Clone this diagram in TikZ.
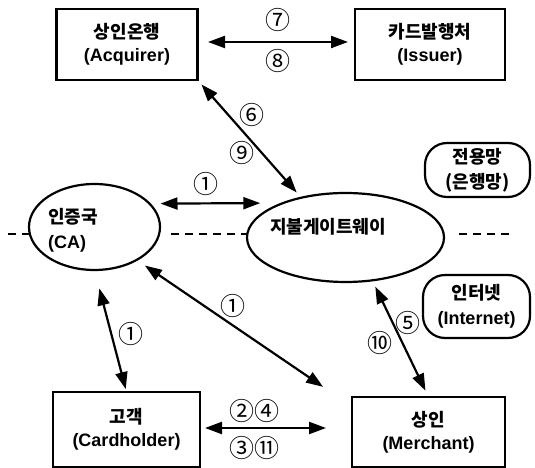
\documentclass[tikz,border=0pt]{standalone}
\usepackage{fontspec}
\setmainfont{Liberation Sans}
\newfontfamily\krb{Noto Sans CJK KR Bold}
\newfontfamily\krn{Noto Sans CJK KR}
\usetikzlibrary{arrows.meta,calc,shapes.geometric}
\tikzset{
  bx/.style={draw, line width=2.2pt, rectangle, inner sep=0pt, outer sep=0pt, align=center,
    font=\bfseries\fontsize{18}{23}\selectfont},
  rbx/.style={draw, line width=2.2pt, rectangle, rounded corners=22pt, inner sep=0pt, outer sep=0pt,
    align=center, font=\bfseries\fontsize{18}{25}\selectfont},
  el/.style={draw, ellipse, line width=2.2pt, inner sep=0pt, outer sep=0pt},
  txt/.style={inner sep=0pt, font=\bfseries\fontsize{18}{25}\selectfont},
  lbl/.style={inner sep=0pt, font=\krn\fontsize{25}{25}\selectfont},
  dbl/.style={{Triangle[length=17pt,width=12pt]}-{Triangle[length=17pt,width=12pt]}, line width=2.2pt},
  dsh/.style={line width=1.8pt, dash pattern=on 8pt off 6pt}
}
\begin{document}
\begin{tikzpicture}[x=1pt,y=1pt]
\useasboundingbox (0,0) rectangle (535,468);
% boxes
\node[bx, minimum width=141pt, minimum height=71pt] (acq) at (127,423.5) {{\krb 상인온행}\\(Acquirer)};
\node[bx, minimum width=150pt, minimum height=71pt] (iss) at (430,423.5) {{\krb 카드발행처}\\(Issuer)};
\node[bx, minimum width=147pt, minimum height=75pt] (ch) at (126.5,38.5) {{\krb 고객}\\(Cardholder)};
\node[bx, minimum width=153pt, minimum height=70pt] (mer) at (428.5,36) {{\krb 상인}\\(Merchant)};
% rounded boxes
\node[rbx, minimum width=105pt, minimum height=54pt] (jy) at (477.5,298) {{\krb 전용망}\\{\krb (은행망)}};
\node[rbx, minimum width=107pt, minimum height=63pt] (inet) at (476.5,161.5) {{\krb 인터넷}\\(Internet)};
% ellipses
\node[el, minimum width=131pt, minimum height=86pt] (ca) at (94.5,241) {};
\node[txt, anchor=west, align=left] (catext) at (48,237.5) {{\krb 인증국}\\(CA)};
\node[el, minimum width=197pt, minimum height=89pt] (gw) at (345.5,230.5) {};
\node[txt] (gwtext) at (328,241) {\krb 지불게이트웨이};
% dashed separator
\coordinate (dl) at (8,234);
\coordinate (dr) at (512,234);
\draw[dsh] (dl) -- (dl -| ca.west);
\draw[dsh] ([xshift=11pt]dl -| ca.east) -- (dl -| gw.west);
\draw[dsh] ([xshift=15pt]dl -| gw.east) -- (dr);
% connectors
\draw[dbl, shorten <=10.5pt, shorten >=7pt] ([yshift=2.5pt]acq.east) -- ([yshift=2.5pt]acq.east -| iss.west);
\draw[dbl, shorten <=6pt, shorten >=7pt] (acq.south east) -- (gw.138);
\draw[dbl, shorten <=11pt, shorten >=23pt] (ca.23.8) -- (gw.151);
\draw[dbl, shorten <=19pt, shorten >=3pt] (ca.south) -- (ch.north);
\draw[dbl, shorten <=10pt, shorten >=18pt] (ca.-38) -- ([xshift=-14pt]mer.north west);
\draw[dbl, shorten <=7pt, shorten >=7pt] (gw.-58) -- (mer.north);
\draw[dbl, shorten <=5pt, shorten >=26pt] ([yshift=1.5pt]ch.east) -- ([yshift=1.5pt]ch.east -| mer.west);
% labels
\node[lbl] (l7) at (278,448) {⑦};
\node[lbl] (l8) at (278,407) {⑧};
\node[lbl] (l6) at (252,353) {⑥};
\node[lbl] (l9) at (242,315) {⑨};
\node[lbl] (l1a) at (206,284) {①};
\node[lbl] (l1b) at (233,162) {①};
\node[lbl] (l1c) at (131,134) {①};
\node[lbl] (l5) at (408,145) {⑤};
\node[lbl] (l10) at (380,125) {⑩};
\node[lbl] (l24) at (254,57) {②④};
\node[lbl] (l311) at (254,20) {③⑪};
\end{tikzpicture}
\end{document}
